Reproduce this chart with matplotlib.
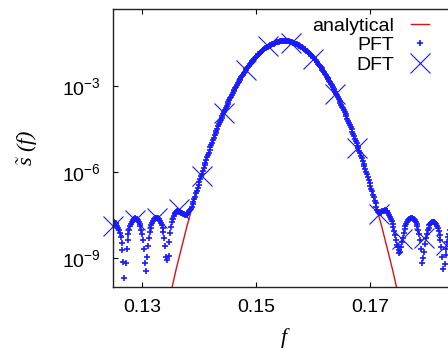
import matplotlib
matplotlib.use('Agg')
import matplotlib.pyplot as plt
import numpy as np
from matplotlib.ticker import NullLocator

# ---- data (log10 of s(f)) ----
# analytical gaussian, sampled every 0.002
f_an = [0.134, 0.136, 0.138, 0.140, 0.142, 0.144, 0.146, 0.148, 0.150, 0.152, 0.154,
        0.156, 0.158, 0.160, 0.162, 0.164, 0.166, 0.168, 0.170, 0.172, 0.174, 0.176]
log_an = [-11.17, -9.40, -7.82, -6.40, -5.17, -4.11, -3.23, -2.52, -1.99, -1.64, -1.46,
          -1.46, -1.64, -1.99, -2.52, -3.23, -4.11, -5.17, -6.40, -7.82, -9.40, -11.17]

# PFT, frequency grid 0.1251 ... 0.1848 (step 0.00015)
f_pft = np.linspace(0.1251, 0.1848, 399)
log_pft = [
    -7.75, -7.76, -7.78, -7.81, -7.86, -7.93, -8.02, -8.13, -8.27, -8.46,
    -8.72, -9.13, -9.70, -10.36, -9.16, -8.67, -8.38, -8.17, -8.01, -7.89,
    -7.80, -7.73, -7.68, -7.64, -7.62, -7.61, -7.62, -7.64, -7.68, -7.73,
    -7.80, -7.89, -8.01, -8.17, -8.38, -8.67, -9.16, -10.30, -9.45, -8.96,
    -8.56, -8.29, -8.10, -7.96, -7.85, -7.76, -7.69, -7.64, -7.61, -7.59,
    -7.58, -7.59, -7.61, -7.64, -7.69, -7.76, -7.85, -7.96, -8.10, -8.29,
    -8.56, -8.96, -9.05, -10.30, -8.92, -8.42, -8.12, -7.91, -7.75, -7.64,
    -7.54, -7.47, -7.42, -7.38, -7.37, -7.37, -7.38, -7.39, -7.41, -7.42,
    -7.44, -7.46, -7.47, -7.48, -7.48, -7.47, -7.45, -7.41, -7.35, -7.33,
    -7.30, -7.22, -7.12, -7.04, -6.95, -6.85, -6.74, -6.64, -6.54, -6.44,
    -6.34, -6.24, -6.14, -6.05, -5.95, -5.86, -5.76, -5.67, -5.58, -5.49,
    -5.40, -5.32, -5.23, -5.14, -5.05, -4.97, -4.89, -4.81, -4.72, -4.64,
    -4.56, -4.49, -4.41, -4.34, -4.26, -4.19, -4.11, -4.04, -3.97, -3.90,
    -3.83, -3.76, -3.69, -3.63, -3.56, -3.50, -3.43, -3.37, -3.31, -3.25,
    -3.19, -3.13, -3.07, -3.02, -2.96, -2.91, -2.85, -2.80, -2.75, -2.70,
    -2.65, -2.60, -2.55, -2.51, -2.46, -2.42, -2.37, -2.33, -2.29, -2.25,
    -2.21, -2.17, -2.13, -2.10, -2.06, -2.03, -1.99, -1.96, -1.93, -1.90,
    -1.87, -1.84, -1.81, -1.79, -1.76, -1.74, -1.71, -1.69, -1.67, -1.65,
    -1.63, -1.61, -1.59, -1.58, -1.56, -1.55, -1.53, -1.52, -1.50, -1.49,
    -1.48, -1.47, -1.47, -1.46, -1.45, -1.45, -1.45, -1.44, -1.44, -1.44,
    -1.44, -1.44, -1.44, -1.44, -1.45, -1.45, -1.46, -1.47, -1.48, -1.49,
    -1.50, -1.51, -1.52, -1.54, -1.55, -1.57, -1.58, -1.60, -1.61, -1.63,
    -1.65, -1.68, -1.70, -1.72, -1.74, -1.77, -1.79, -1.82, -1.85, -1.88,
    -1.91, -1.94, -1.97, -2.00, -2.04, -2.08, -2.11, -2.15, -2.18, -2.22,
    -2.26, -2.30, -2.34, -2.39, -2.43, -2.48, -2.52, -2.57, -2.62, -2.67,
    -2.71, -2.77, -2.82, -2.87, -2.92, -2.98, -3.03, -3.09, -3.15, -3.21,
    -3.27, -3.33, -3.39, -3.46, -3.52, -3.59, -3.65, -3.72, -3.78, -3.85,
    -3.92, -3.99, -4.06, -4.14, -4.21, -4.29, -4.36, -4.44, -4.51, -4.59,
    -4.67, -4.75, -4.83, -4.92, -5.00, -5.09, -5.17, -5.26, -5.34, -5.43,
    -5.52, -5.61, -5.70, -5.80, -5.89, -5.99, -6.08, -6.18, -6.27, -6.37,
    -6.47, -6.57, -6.67, -6.78, -6.88, -6.99, -7.09, -7.20, -7.32, -7.38,
    -7.42, -7.43, -7.42, -7.40, -7.37, -7.35, -7.34, -7.33, -7.34, -7.35,
    -7.37, -7.42, -7.48, -7.55, -7.62, -7.70, -7.80, -7.92, -8.05, -8.19,
    -8.35, -8.52, -8.60, -8.72, -8.80, -8.78, -8.62, -8.45, -8.28, -8.12,
    -7.99, -7.88, -7.80, -7.73, -7.68, -7.64, -7.62, -7.61, -7.61, -7.61,
    -7.62, -7.64, -7.68, -7.73, -7.80, -7.89, -8.01, -8.17, -8.38, -8.67,
    -9.15, -10.30, -9.00, -8.78, -8.51, -8.30, -8.14, -8.02, -7.93, -7.85,
    -7.80, -7.76, -7.73, -7.72, -7.72, -7.74, -7.77, -7.81, -7.87, -7.96,
    -8.06, -8.19, -8.36, -8.60, -8.94, -9.38, -10.40, -9.20, -8.90, -8.68,
    -8.44, -8.27, -8.14, -8.03, -7.93, -7.89, -7.85, -7.82, -7.80,
]

# DFT
f_dft = [0.1249, 0.1288, 0.1327, 0.1366, 0.1405, 0.1444, 0.1483, 0.1522,
         0.1561, 0.1600, 0.1639, 0.1678, 0.1717, 0.1756, 0.1795, 0.1834]
log_dft = [-7.89, -7.68, -7.58, -7.30, -6.12, -3.94, -2.45, -1.61,
           -1.51, -2.06, -3.28, -5.15, -7.47, -8.34, -8.31, -8.52]

xticks = [0.13, 0.15, 0.17]
yticks = [1e-9, 1e-6, 1e-3]

plt.rcParams['font.family'] = 'Liberation Sans'
plt.rcParams['mathtext.fontset'] = 'custom'
plt.rcParams['mathtext.rm'] = 'Liberation Sans'
plt.rcParams['mathtext.it'] = 'Liberation Serif:italic'
plt.rcParams['mathtext.default'] = 'regular'

blue = '#1a1aff'

fig = plt.figure(figsize=(4.48, 3.58), dpi=100)
ax = fig.add_axes([113.3 / 448, 71 / 358, 342 / 448, 278.5 / 358])

ax.plot(f_an, 10 ** np.array(log_an), color='#dd1111', lw=1.0, label='analytical')
ax.plot(f_pft, 10 ** np.array(log_pft), ls='none', marker='+', ms=4.5, mew=1.2,
        color=blue, label='PFT')
ax.plot(f_dft, 10 ** np.array(log_dft), ls='none', marker='x', ms=14, mew=0.8,
        color=blue, label='DFT', clip_on=False)

ax.set_yscale('log')
ax.set_xlim(0.125, 0.185)
ax.set_ylim(1e-10, 0.5)
ax.set_xticks(xticks)
ax.set_xticklabels(['0.13', '0.15', '0.17'])
ax.set_yticks(yticks)
ax.yaxis.set_minor_locator(NullLocator())
ax.tick_params(direction='in', top=True, right=True, length=3.5, width=0.8,
               labelsize=14, pad=9)
for s in ax.spines.values():
    s.set_linewidth(1.0)
    s.set_color('#222222')

ax.set_xlabel('f', fontfamily='Liberation Serif', fontstyle='italic', fontsize=16, labelpad=8)
ax.set_ylabel(r'$\tilde{s}$ (f)', fontfamily='Liberation Serif', fontstyle='italic',
              fontsize=16, labelpad=16)

leg = ax.legend(loc='upper right', bbox_to_anchor=(429 / 448, 1 - 17 / 358),
                bbox_transform=fig.transFigure, frameon=False, markerfirst=False,
                fontsize=14, borderpad=0, borderaxespad=0, handlelength=0.95,
                handletextpad=0.85, labelspacing=0.1)
leg.legend_handles[1].set_markersize(4)
leg.legend_handles[1].set_markeredgewidth(1.2)

fig.savefig('out.png', dpi=100)
